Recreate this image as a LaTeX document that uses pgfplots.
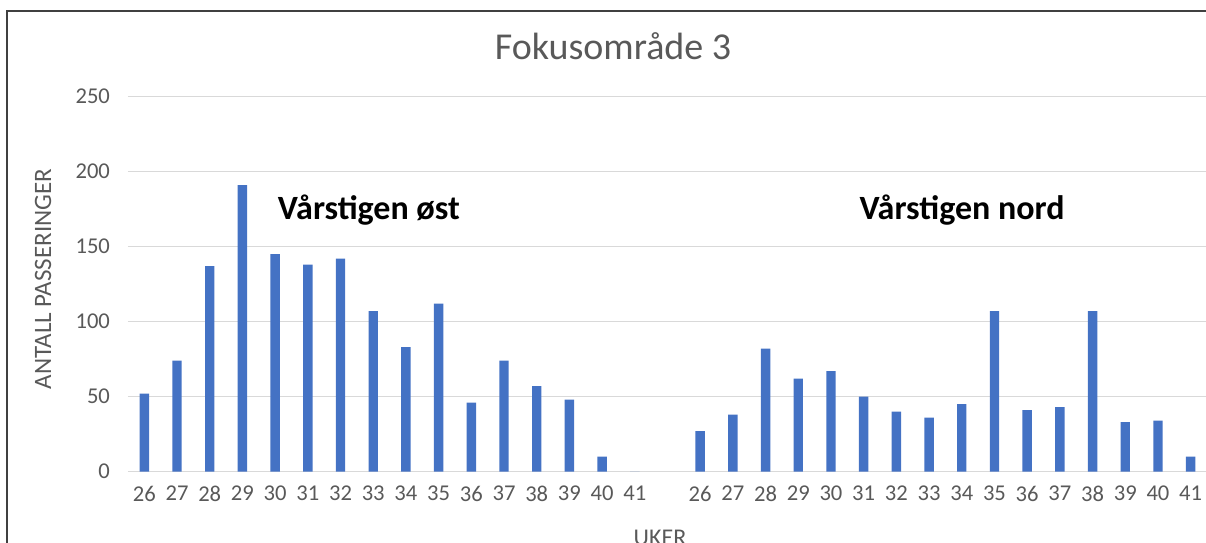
\documentclass[border=0pt]{standalone}
\usepackage{fontspec}
\setmainfont{Carlito}
\usepackage{pgfplots}
\pgfplotsset{compat=1.18}
\definecolor{barblue}{RGB}{68,114,196}
\definecolor{gridgray}{RGB}{217,217,217}
\definecolor{txtgray}{RGB}{89,89,89}

% px -> pt: 1px = 0.5pt, picture 1206x542 px = 603x271 pt
\begin{document}
\begin{tikzpicture}[x=0.5pt,y=0.5pt]
\useasboundingbox (0,0) rectangle (1206,542);
% chart frame: left and top edges only are visible
\draw[color=black!75, line width=0.6pt] (7,-20) -- (7,531) -- (1206,531);
\begin{axis}[
    at={(64pt,35.15pt)}, anchor=south west,
    scale only axis,
    width=539.5pt, height=187.5pt,
    ybar, bar width=4.7pt,
    xmin=-0.5, xmax=32.5,
    ymin=0, ymax=250,
    ytick={0,50,...,250},
    xtick={0,...,15,17,18,...,32},
    xticklabels={26,27,28,29,30,31,32,33,34,35,36,37,38,39,40,41,
                 26,27,28,29,30,31,32,33,34,35,36,37,38,39,40,41},
    ymajorgrids, grid style={gridgray, line width=0.75pt},
    axis line style={draw=none},
    axis x line*=bottom,
    major tick length=0pt,
    tick label style={font=\fontsize{11.3}{13}\selectfont, text=txtgray},
    /pgf/number format/assume math mode=true,
    yticklabel style={xshift=-5.5pt},
    xticklabel style={yshift=-3.5pt},
    clip=false,
]
\draw[gridgray, line width=0.75pt] (axis cs:-0.5,0) -- (axis cs:32.5,0);
\addplot[fill=barblue, draw=none] coordinates {
    (0,52) (1,74) (2,137) (3,191) (4,145) (5,138) (6,142) (7,107)
    (8,83) (9,112) (10,46) (11,74) (12,57) (13,48) (14,10) (15,0)
    (17,27) (18,38) (19,82) (20,62) (21,67) (22,50) (23,40) (24,36)
    (25,45) (26,107) (27,41) (28,43) (29,107) (30,33) (31,34) (32,10)
};
\end{axis}
\node[text=txtgray, font=\fontsize{19}{22}\selectfont] at (613,496) {Fokusområde 3};
\node[text=txtgray, font=\fontsize{12.5}{14}\selectfont, rotate=90] at (43,263) {ANTALL PASSERINGER};
\node[font=\fontsize{17}{20}\bfseries] at (369,332) {Vårstigen øst};
\node[font=\fontsize{17}{20}\bfseries] at (962,332) {Vårstigen nord};
\node[text=txtgray, font=\fontsize{12}{14}\selectfont, anchor=base] at (660,-3) {UKER};
\end{tikzpicture}
\end{document}
